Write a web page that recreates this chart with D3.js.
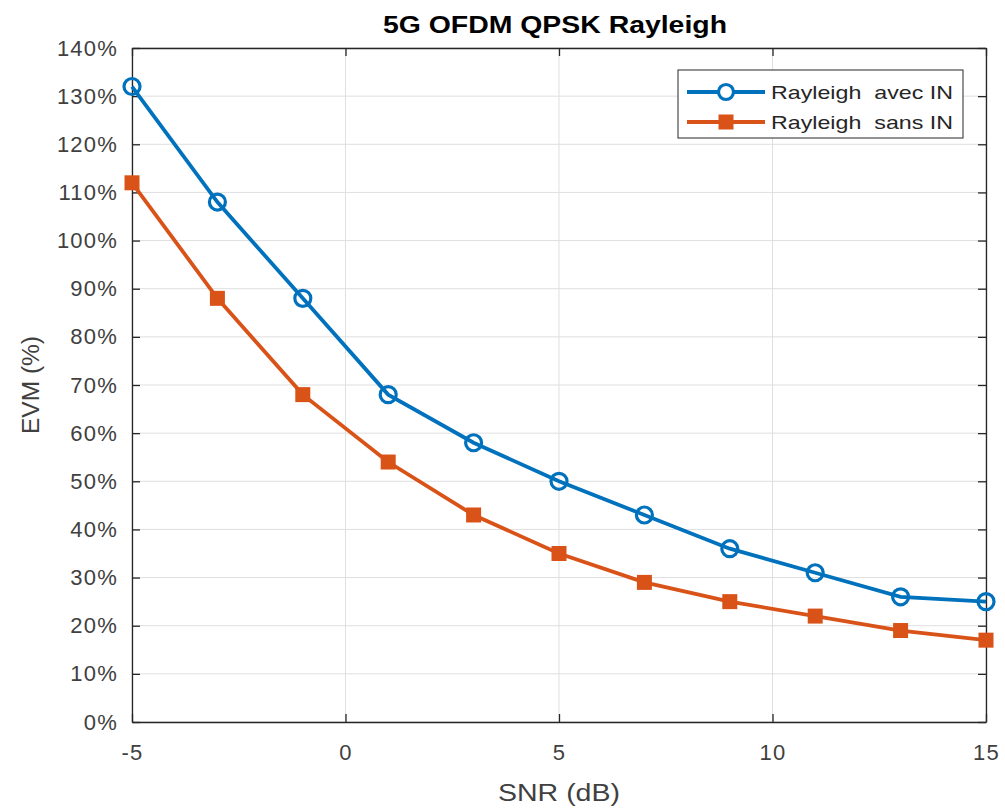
<!DOCTYPE html>
<html>
<head>
<meta charset="utf-8">
<script src="https://cdn.jsdelivr.net/npm/d3@7"></script>
<style>
  body { margin: 0; background: #fff; }
  svg { font-family: "Liberation Sans", Arial, sans-serif; }
  .tick text { fill: #404040; font-size: 22px; letter-spacing: 1.2px; }
  .grid line { stroke: #dfdfdf; stroke-width: 1; }
</style>
</head>
<body>
<svg id="chart" width="1005" height="808"></svg>
<script>
// valeurs
const snr = [-5, -3, -1, 1, 3, 5, 7, 9, 11, 13, 15];
const evmAvecIN = [132, 108, 88, 68, 58, 50, 43, 36, 31, 26, 25];
const evmSansIN = [112, 88, 68, 54, 43, 35, 29, 25, 22, 19, 17];
const xTicks = [-5, 0, 5, 10, 15];
const yTicks = [0, 10, 20, 30, 40, 50, 60, 70, 80, 90, 100, 110, 120, 130, 140];
const seriesNames = ["Rayleigh  avec IN", "Rayleigh  sans IN"];

const COLORS = { blue: "#0072BD", orange: "#D95319", axis: "#262626" };
const M = { left: 132, top: 48, right: 986, bottom: 722 };

const svg = d3.select("#chart");

const x = d3.scaleLinear().domain([-5, 15]).range([M.left, M.right]);
const y = d3.scaleLinear().domain([0, 140]).range([M.bottom, M.top]);

// grille
svg.append("g").attr("class", "grid")
    .selectAll("line").data(xTicks).join("line")
    .attr("x1", d => x(d)).attr("x2", d => x(d))
    .attr("y1", M.top).attr("y2", M.bottom);
svg.append("g").attr("class", "grid")
    .selectAll("line").data(yTicks).join("line")
    .attr("x1", M.left).attr("x2", M.right)
    .attr("y1", d => y(d)).attr("y2", d => y(d));

// axes (ticks vers l'intérieur, style MATLAB)
const styleAxis = g => {
    g.selectAll(".domain").attr("stroke", COLORS.axis).attr("stroke-width", 1.3);
    g.selectAll(".tick line").attr("stroke", COLORS.axis).attr("stroke-width", 1.3);
};

svg.append("g")
    .attr("transform", `translate(0,${M.bottom})`)
    .call(d3.axisBottom(x).tickValues(xTicks).tickSizeInner(-8).tickSizeOuter(0).tickPadding(22)
        .tickFormat(d => String(d)))
    .call(styleAxis)
    .call(g => g.selectAll(".tick text").attr("dy", "0.72em"));

svg.append("g")
    .attr("transform", `translate(0,${M.top})`)
    .call(d3.axisTop(x).tickValues(xTicks).tickSizeInner(-8).tickSizeOuter(0).tickFormat(""))
    .call(styleAxis);

svg.append("g")
    .attr("transform", `translate(${M.left},0)`)
    .call(d3.axisLeft(y).tickValues(yTicks).tickSizeInner(-8).tickSizeOuter(0).tickPadding(14)
        .tickFormat(d => d + "%"))
    .call(styleAxis);

svg.append("g")
    .attr("transform", `translate(${M.right},0)`)
    .call(d3.axisRight(y).tickValues(yTicks).tickSizeInner(-8).tickSizeOuter(0).tickFormat(""))
    .call(styleAxis);

// courbes
const line = d3.line().x(d => x(d[0])).y(d => y(d[1]));
const dataAvec = snr.map((s, i) => [s, evmAvecIN[i]]);
const dataSans = snr.map((s, i) => [s, evmSansIN[i]]);

svg.append("path").datum(dataSans)
    .attr("d", line).attr("fill", "none")
    .attr("stroke", COLORS.orange).attr("stroke-width", 3.8);
svg.append("g").selectAll("rect").data(dataSans).join("rect")
    .attr("x", d => x(d[0]) - 7.5).attr("y", d => y(d[1]) - 7.5)
    .attr("width", 15).attr("height", 15)
    .attr("fill", COLORS.orange);

svg.append("path").datum(dataAvec)
    .attr("d", line).attr("fill", "none")
    .attr("stroke", COLORS.blue).attr("stroke-width", 3.8);
svg.append("g").selectAll("circle").data(dataAvec).join("circle")
    .attr("cx", d => x(d[0])).attr("cy", d => y(d[1]))
    .attr("r", 8).attr("fill", "none")
    .attr("stroke", COLORS.blue).attr("stroke-width", 3.2);

// titre et labels
svg.append("text")
    .attr("x", 555).attr("y", 33)
    .attr("text-anchor", "middle")
    .attr("textLength", 344).attr("lengthAdjust", "spacingAndGlyphs")
    .style("font-size", "24px").style("font-weight", "bold").attr("fill", "#000")
    .text("5G OFDM QPSK Rayleigh");

svg.append("text")
    .attr("x", 559).attr("y", 801)
    .attr("text-anchor", "middle")
    .attr("textLength", 122).attr("lengthAdjust", "spacingAndGlyphs")
    .style("font-size", "23px").attr("fill", "#404040")
    .text("SNR (dB)");

svg.append("text")
    .attr("transform", `translate(39,${(M.top + M.bottom) / 2}) rotate(-90)`)
    .attr("text-anchor", "middle")
    .attr("textLength", 98).attr("lengthAdjust", "spacingAndGlyphs")
    .style("font-size", "23px").attr("fill", "#404040")
    .text("EVM (%)");

// légende
const legend = svg.append("g").attr("transform", "translate(678,70)");
legend.append("rect")
    .attr("width", 285).attr("height", 68)
    .attr("fill", "#fff").attr("stroke", COLORS.axis).attr("stroke-width", 1);

const legendItems = [
    { name: seriesNames[0], color: COLORS.blue, marker: "circle" },
    { name: seriesNames[1], color: COLORS.orange, marker: "square" }
];
legendItems.forEach((item, i) => {
    const row = legend.append("g").attr("transform", `translate(0,${22 + i * 30})`);
    row.append("line")
        .attr("x1", 9).attr("x2", 87)
        .attr("stroke", item.color).attr("stroke-width", 3.8);
    if (item.marker === "circle") {
        row.append("circle").attr("cx", 48).attr("r", 7.5)
            .attr("fill", "#fff").attr("stroke", item.color).attr("stroke-width", 3.2);
    } else {
        row.append("rect").attr("x", 40.5).attr("y", -7.5)
            .attr("width", 15).attr("height", 15).attr("fill", item.color);
    }
    row.append("text")
        .attr("x", 93).attr("dy", "0.36em")
        .attr("textLength", 182).attr("lengthAdjust", "spacingAndGlyphs")
        .style("font-size", "19px").attr("fill", "#262626")
        .style("white-space", "pre")
        .text(item.name);
});
</script>
</body>
</html>
